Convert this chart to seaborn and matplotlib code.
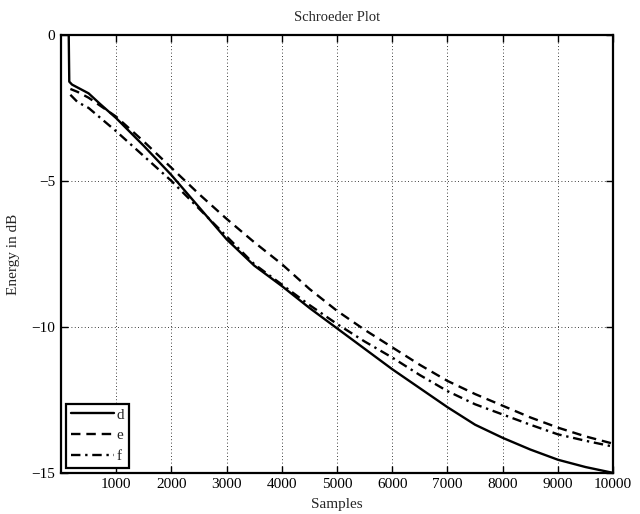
import matplotlib
matplotlib.use("Agg")
import matplotlib.pyplot as plt
import seaborn as sns
import pandas as pd

# Data
d_x = [140, 150, 200, 300, 500, 700, 1000, 1500, 2000, 2500, 3000, 3500, 4000,
       4500, 5000, 5500, 6000, 6500, 7000, 7500, 8000, 8500, 9000, 9500, 10000]
d_y = [0.0, -1.6, -1.7, -1.8, -2.0, -2.35, -2.85, -3.8, -4.8, -5.9, -7.0, -7.9, -8.6,
       -9.35, -10.05, -10.75, -11.45, -12.1, -12.75, -13.35, -13.8, -14.2, -14.55, -14.8, -15.0]

e_x = [170, 300, 500, 1000, 1500, 2000, 2500, 3000, 3500, 4000, 4500, 5000,
       5500, 6000, 6500, 7000, 7500, 8000, 8500, 9000, 9500, 10000]
e_y = [-1.85, -1.95, -2.15, -2.8, -3.65, -4.55, -5.45, -6.3, -7.1, -7.85, -8.7, -9.45,
       -10.1, -10.7, -11.3, -11.85, -12.3, -12.7, -13.1, -13.45, -13.75, -14.0]

f_x = [170, 300, 500, 1000, 1500, 2000, 2500, 3000, 3500, 4000, 4500, 5000,
       5500, 6000, 6500, 7000, 7500, 8000, 8500, 9000, 9500, 10000]
f_y = [-2.05, -2.3, -2.5, -3.3, -4.15, -5.0, -5.95, -6.9, -7.85, -8.55, -9.25, -9.9,
       -10.5, -11.05, -11.65, -12.2, -12.65, -13.0, -13.35, -13.68, -13.9, -14.1]

labels = ["d", "e", "f"]
x_ticks = [1000, 2000, 3000, 4000, 5000, 6000, 7000, 8000, 9000, 10000]
y_ticks = [0, -5, -10, -15]

sns.set_theme(style="ticks")
plt.rcParams["font.family"] = ["Liberation Serif", "DejaVu Serif"]
plt.rcParams["axes.unicode_minus"] = True

fig = plt.figure(figsize=(6.4, 5.14), dpi=100)
ax = fig.add_axes([0.0953, 0.080, 0.8627, 0.852])

styles = ["-", (0, (4, 2.5)), (0, (4, 2, 1, 2))]
for xs, ys, lab, ls in zip([d_x, e_x, f_x], [d_y, e_y, f_y], labels, styles):
    sns.lineplot(x=xs, y=ys, ax=ax, color="black", linewidth=1.7,
                 linestyle=ls, label=lab, sort=False)

ax.set_xlim(0, 10000)
ax.set_ylim(-15, 0)
ax.set_xticks(x_ticks)
ax.set_yticks(y_ticks)
ax.grid(True, color="black", linestyle=(0, (1, 3)), linewidth=0.6)
ax.tick_params(direction="in", length=5, width=1.0, top=True, right=True,
               labelsize=11, colors="black", pad=4)
for s in ax.spines.values():
    s.set_linewidth(1.6)
    s.set_color("black")
    s.set_visible(True)

ax.set_title("Schroeder Plot", fontsize=10.5, pad=10)
ax.set_xlabel("Samples", fontsize=11, labelpad=5)
ax.set_ylabel("Energy in dB", fontsize=11, labelpad=8)

leg = ax.legend(loc="lower left", fontsize=11, frameon=True, fancybox=False,
                edgecolor="black", handlelength=2.8, handletextpad=0.2,
                borderpad=0.3, labelspacing=0.45, borderaxespad=0.35)
leg.get_frame().set_linewidth(1.6)
leg.get_frame().set_alpha(1)

fig.savefig("out.png", dpi=100)
